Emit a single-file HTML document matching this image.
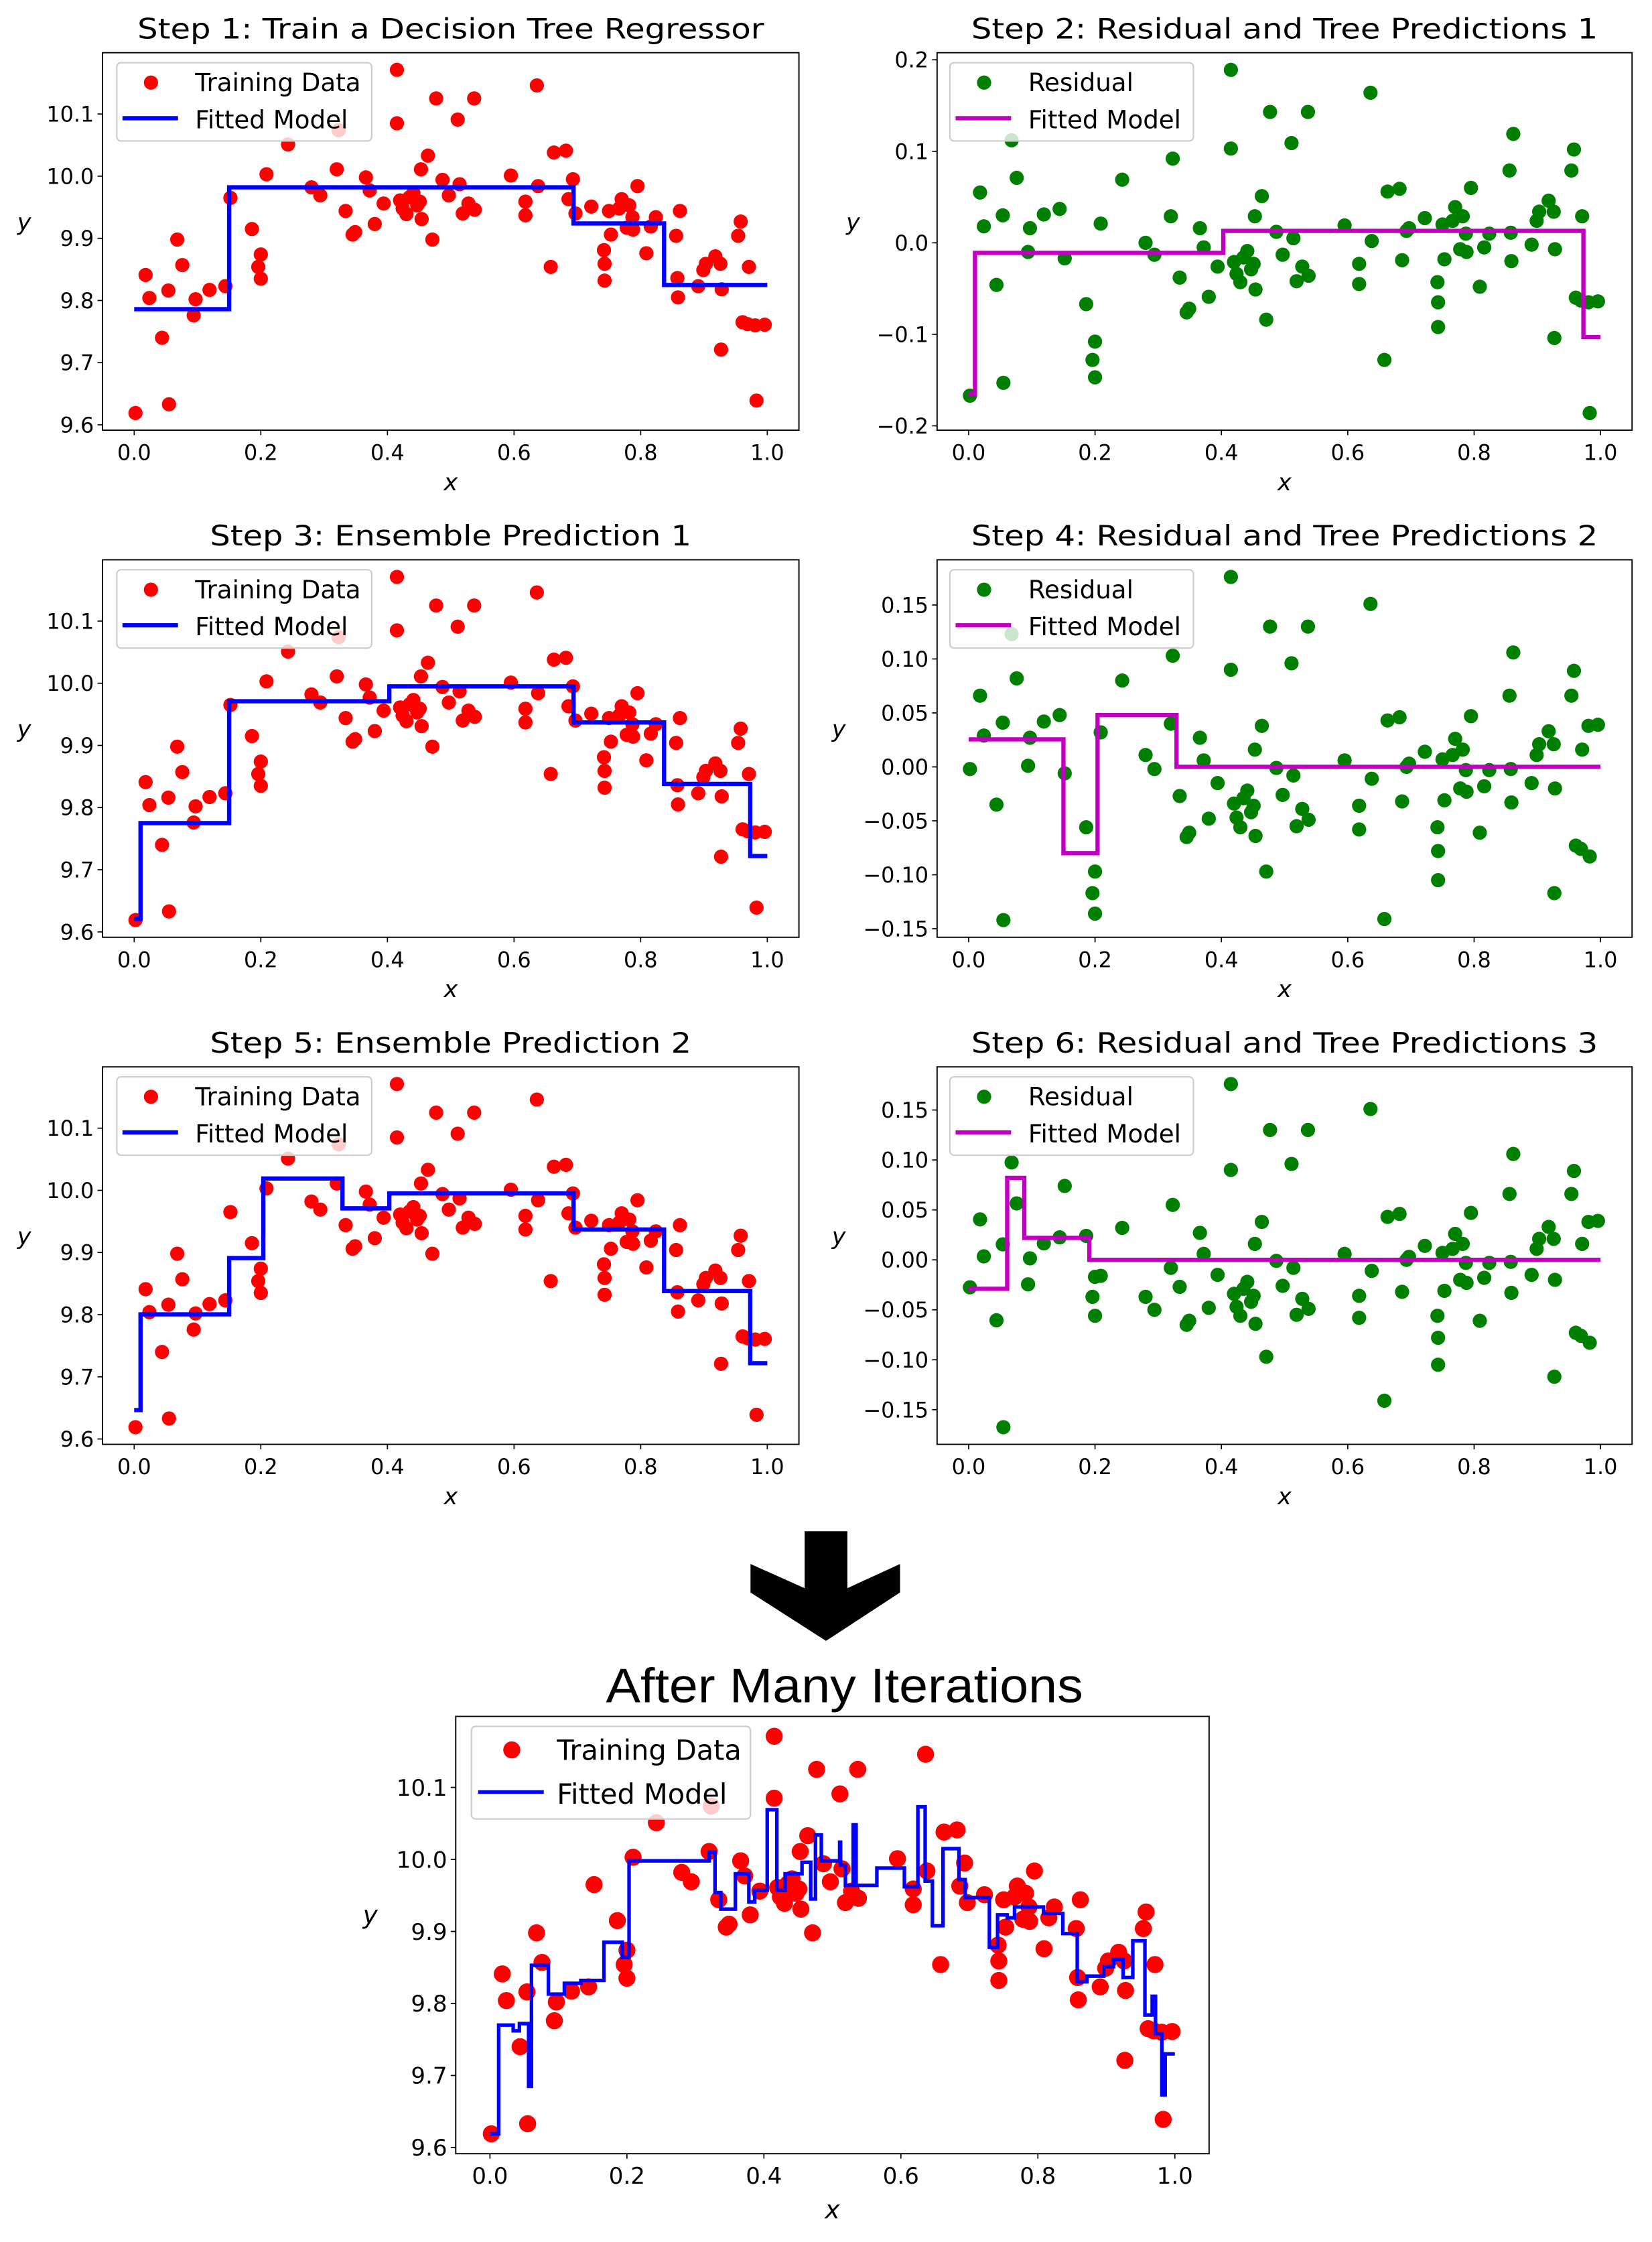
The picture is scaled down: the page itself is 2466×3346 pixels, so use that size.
<!DOCTYPE html>
<html><head><meta charset="utf-8"><style>
html,body{margin:0;padding:0;background:#fff;}
svg{display:block;}
text{font-family:"DejaVu Sans","Liberation Sans",sans-serif;fill:#000;}
</style></head><body>
<svg id="fig" width="2466" height="3346" viewBox="0 0 1160 1574" preserveAspectRatio="none" xmlns="http://www.w3.org/2000/svg">
<polygon points="565,1075 595,1075 595,1115 632,1098 632,1118 580,1152 527,1118 527,1098 565,1115" fill="#000"/>
<text x="593" y="1195" text-anchor="middle" font-size="34" textLength="335" lengthAdjust="spacingAndGlyphs" style="font-family:'Liberation Sans',sans-serif">After Many Iterations</text>
</svg>
<script>
// ---- Training data ----
const trainX=[0.002,0.018,0.024,0.044,0.054,0.055,0.068,0.076,0.094,0.097,0.119,0.144,0.152,0.186,0.196,0.200,0.200,0.209,0.243,0.280,0.294,0.320,0.323,0.334,0.345,0.349,0.366,0.372,0.380,0.394,0.415,0.415,0.420,0.424,0.430,0.435,0.441,0.447,0.451,0.453,0.454,0.464,0.471,0.477,0.487,0.497,0.511,0.514,0.519,0.528,0.537,0.538,0.595,0.618,0.618,0.636,0.638,0.658,0.663,0.682,0.686,0.693,0.697,0.722,0.742,0.743,0.743,0.750,0.753,0.766,0.770,0.778,0.782,0.787,0.788,0.795,0.809,0.816,0.824,0.856,0.858,0.859,0.862,0.891,0.899,0.903,0.918,0.926,0.928,0.927,0.954,0.958,0.961,0.969,0.971,0.981,0.983,0.996];
const trainY=[9.619,9.841,9.804,9.740,9.816,9.633,9.898,9.857,9.776,9.802,9.817,9.823,9.965,9.915,9.854,9.874,9.835,10.003,10.051,9.982,9.969,10.011,10.074,9.944,9.906,9.910,9.998,9.977,9.923,9.956,10.171,10.085,9.961,9.948,9.939,9.966,9.973,9.953,9.959,10.011,9.931,10.033,9.898,10.125,9.994,9.969,10.091,9.987,9.940,9.956,10.125,9.946,10.001,9.959,9.937,10.146,9.984,9.854,10.038,10.041,9.963,9.995,9.940,9.951,9.881,9.859,9.832,9.944,9.906,9.948,9.963,9.917,9.953,9.934,9.914,9.984,9.876,9.919,9.934,9.904,9.836,9.805,9.944,9.823,9.849,9.859,9.871,9.859,9.818,9.721,9.904,9.927,9.765,9.762,9.854,9.760,9.639,9.761];
// ---- Trees (split thresholds, leaf values) ----
const tree1Splits=[0.150,0.694,0.837];
const tree1Values=[9.786,9.982,9.924,9.825];
const tree2Splits=[0.010,0.403,0.973];
const tree2Values=[-0.165,-0.011,0.013,-0.103];
const tree3Splits=[0.150,0.204,0.329];
const tree3Values=[0.0255,-0.080,0.048,0.000];
const tree4Splits=[0.061,0.088,0.191];
const tree4Values=[-0.029,0.082,0.022,0.000];
// ---- Final model (after many iterations): step left edges and levels ----
const finalEdges=[0.0,0.0127,0.0339,0.0430,0.0564,0.0606,0.0853,0.1086,0.1326,0.1664,0.1932,0.2031,0.3202,0.3286,0.3371,0.3583,0.3780,0.3865,0.4048,0.4189,0.4309,0.4556,0.4683,0.4753,0.4838,0.5106,0.5120,0.5190,0.5303,0.5346,0.5649,0.6051,0.6248,0.6354,0.6460,0.6615,0.6848,0.6939,0.7292,0.7412,0.7553,0.7659,0.8082,0.8364,0.8575,0.8716,0.8963,0.9104,0.9245,0.9386,0.9563,0.9669,0.9718,0.9810,0.9859];
const finalLevels=[9.619,9.770,9.762,9.772,9.685,9.853,9.813,9.828,9.832,9.885,9.864,9.998,10.010,9.954,9.931,9.980,9.941,9.957,10.069,9.957,9.980,9.996,9.945,10.034,9.998,10.024,9.992,9.964,10.048,9.964,9.988,9.962,10.073,9.970,9.908,10.015,9.972,9.947,9.878,9.923,9.919,9.934,9.925,9.897,9.830,9.838,9.851,9.861,9.836,9.887,9.784,9.810,9.758,9.673,9.730];
// ---- Ticks ----
const xTicks=[0,0.2,0.4,0.6,0.8,1.0];
const yTicksTarget=[9.6,9.7,9.8,9.9,10.0,10.1];
const yTicksRes1=[-0.2,-0.1,0.0,0.1,0.2];
const yTicksRes2=[-0.15,-0.10,-0.05,0.00,0.05,0.10,0.15];

const NS="http://www.w3.org/2000/svg";
const svg=document.getElementById('fig');
function mk(tag,attrs,parent){const e=document.createElementNS(NS,tag);for(const k in attrs)e.setAttribute(k,attrs[k]);(parent||svg).appendChild(e);return e;}
function evalTree(splits,vals,x){let i=0;while(i<splits.length&&x>=splits[i])i++;return vals[i];}
function stepsFromTrees(trees){
  let th=[];trees.forEach(t=>th=th.concat(t[0]));th=[...new Set(th)].sort((a,b)=>a-b);
  const edges=[0].concat(th);const lv=edges.map(e=>{let s=0;trees.forEach(t=>s+=evalTree(t[0],t[1],e+1e-9));return s;});
  return [edges,lv];
}
const T1=[tree1Splits,tree1Values],T2=[tree2Splits,tree2Values],T3=[tree3Splits,tree3Values],T4=[tree4Splits,tree4Values];
const res1=trainX.map((x,i)=>trainY[i]-evalTree(tree1Splits,tree1Values,x));
const res2=trainX.map((x,i)=>trainY[i]-evalTree(tree1Splits,tree1Values,x)-evalTree(tree2Splits,tree2Values,x));
const res3=trainX.map((x,i)=>res2[i]-evalTree(tree3Splits,tree3Values,x));

function fmt(v,d){const s=Math.abs(v).toFixed(d);return (v<-1e-9?'\u2212':'')+s;}

function panel(o){
  const g=mk('g',{});
  
  
  const [edges,levels]=o.steps;
  let vals=o.py.concat(levels);
  let mn=Math.min(...vals),mx=Math.max(...vals),rg=mx-mn;
  const y0=mn-0.05*rg,y1=mx+0.05*rg;
  const X=x=>o.l+(x+0.05)/1.1*(o.r-o.l);
  const Y=y=>o.b-(y-y0)/(y1-y0)*(o.b-o.t);
  const fs=o.fs;
  if(o.title){const t=mk('text',{x:(o.l+o.r)/2,y:o.t-10,'text-anchor':'middle','font-size':19.5,textLength:o.tw,lengthAdjust:'spacingAndGlyphs'},g);t.textContent=o.title;
    }
  xTicks.forEach(v=>{const x=X(v);mk('line',{x1:x,x2:x,y1:o.b,y2:o.b+3.5,stroke:'#000','stroke-width':0.8},g);
    const t=mk('text',{x:x,y:o.b+21,'text-anchor':'middle','font-size':fs},g);t.textContent=v.toFixed(1);
    });
  o.yt.forEach(v=>{const y=Y(v);mk('line',{x1:o.l-3.5,x2:o.l,y1:y,y2:y,stroke:'#000','stroke-width':0.8},g);
    const t=mk('text',{x:o.l-6,y:y+fs*0.36,'text-anchor':'end','font-size':fs},g);t.textContent=fmt(v,o.yd);
    });
  const xl=mk('text',{x:(o.l+o.r)/2,y:o.b+42*o.sc,'text-anchor':'middle','font-size':fs*1.1,'font-style':'italic'},g);xl.textContent='x';
  
  const yl=mk('text',{x:o.ylx,y:(o.t+o.b)/2-8,'text-anchor':'middle','font-size':fs*1.1,'font-style':'italic'},g);yl.textContent='y';
  
  const pg=mk('g',{},g);
  o.px.forEach((x,i)=>{const c=mk('circle',{cx:X(x),cy:Y(o.py[i]),r:o.mr,fill:o.pc},pg);
    });
  let d='';for(let i=0;i<edges.length;i++){const xa=X(edges[i]),xb=X(i+1<edges.length?edges[i+1]:1),y=Y(levels[i]);
    d+=(i==0?'M':'L')+xa.toFixed(2)+','+y.toFixed(2)+'L'+xb.toFixed(2)+','+y.toFixed(2);}
  const ln=mk('path',{d:d,fill:'none',stroke:o.lc,'stroke-width':o.lw,'stroke-linejoin':'miter'},g);
  
  mk('rect',{x:o.l,y:o.t,width:o.r-o.l,height:o.b-o.t,fill:'none',stroke:'#000','stroke-width':0.9},g);
  const lg=mk('g',{},g);
  const L=o.leg;
  mk('rect',{x:L.x,y:L.y,width:L.w,height:L.h,rx:3,fill:'#fff','fill-opacity':0.8,stroke:'#ccc','stroke-width':1},lg);
  const s=L.h/55;
  mk('circle',{cx:L.x+24*s,cy:L.y+14*s,r:o.mr,fill:o.pc},lg);
  const t1=mk('text',{x:L.x+L.tx,y:L.y+20*s,'font-size':L.fs},lg);t1.textContent=o.lab1;
  
  mk('line',{x1:L.x+4*s,x2:L.x+43*s,y1:L.y+39*s,y2:L.y+39*s,stroke:o.lc,'stroke-width':o.lw},lg);
  const t2=mk('text',{x:L.x+L.tx,y:L.y+46*s,'font-size':L.fs},lg);t2.textContent='Fitted Model';
  
}
const rows=[37,393,749],H=265;
const base={fs:15,sc:1,mr:5,lw:3,yd:1};
const red='#ff0000',grn='#008000',blu='#0000ff',mag='#bf00bf';
const legT=(x,y)=>({x:x,y:y+7,w:179,h:55,tx:55,fs:17.5});
const legR=(x,y)=>({x:x,y:y+7,w:171,h:55,tx:55,fs:17.5});

panel(Object.assign({},base,{name:'step1-panel',title:'Step 1: Train a Decision Tree Regressor',tw:440,l:72,r:561,t:rows[0],b:rows[0]+H,ylx:17,
  px:trainX,py:trainY,pc:red,lc:blu,steps:stepsFromTrees([T1]),yt:yTicksTarget,leg:legT(82,rows[0]),lab1:'Training Data'}));
panel(Object.assign({},base,{name:'step2-panel',title:'Step 2: Residual and Tree Predictions 1',tw:440,l:658,r:1146,t:rows[0],b:rows[0]+H,ylx:599,
  px:trainX,py:res1,pc:grn,lc:mag,steps:stepsFromTrees([T2]),yt:yTicksRes1,leg:legR(667,rows[0]),lab1:'Residual'}));
panel(Object.assign({},base,{name:'step3-panel',title:'Step 3: Ensemble Prediction 1',tw:338,l:72,r:561,t:rows[1],b:rows[1]+H,ylx:17,
  px:trainX,py:trainY,pc:red,lc:blu,steps:stepsFromTrees([T1,T2]),yt:yTicksTarget,leg:legT(82,rows[1]),lab1:'Training Data'}));
panel(Object.assign({},base,{name:'step4-panel',title:'Step 4: Residual and Tree Predictions 2',tw:440,l:658,r:1146,t:rows[1],b:rows[1]+H,ylx:589,yd:2,
  px:trainX,py:res2,pc:grn,lc:mag,steps:stepsFromTrees([T3]),yt:yTicksRes2,leg:legR(667,rows[1]),lab1:'Residual'}));
panel(Object.assign({},base,{name:'step5-panel',title:'Step 5: Ensemble Prediction 2',tw:338,l:72,r:561,t:rows[2],b:rows[2]+H,ylx:17,
  px:trainX,py:trainY,pc:red,lc:blu,steps:stepsFromTrees([T1,T2,T3]),yt:yTicksTarget,leg:legT(82,rows[2]),lab1:'Training Data'}));
panel(Object.assign({},base,{name:'step6-panel',title:'Step 6: Residual and Tree Predictions 3',tw:440,l:658,r:1146,t:rows[2],b:rows[2]+H,ylx:589,yd:2,
  px:trainX,py:res3,pc:grn,lc:mag,steps:stepsFromTrees([T4]),yt:yTicksRes2,leg:legR(667,rows[2]),lab1:'Residual'}));
panel({name:'final-panel',title:null,l:320,r:849,t:1205,b:1512,ylx:260,fs:16,sc:1.08,mr:6,lw:2.5,yd:1,
  px:trainX,py:trainY,pc:red,lc:blu,steps:[finalEdges,finalLevels],yt:yTicksTarget,
  leg:{x:331,y:1212,w:196,h:65,tx:60,fs:19.5},lab1:'Training Data'});
</script>
</body></html>
